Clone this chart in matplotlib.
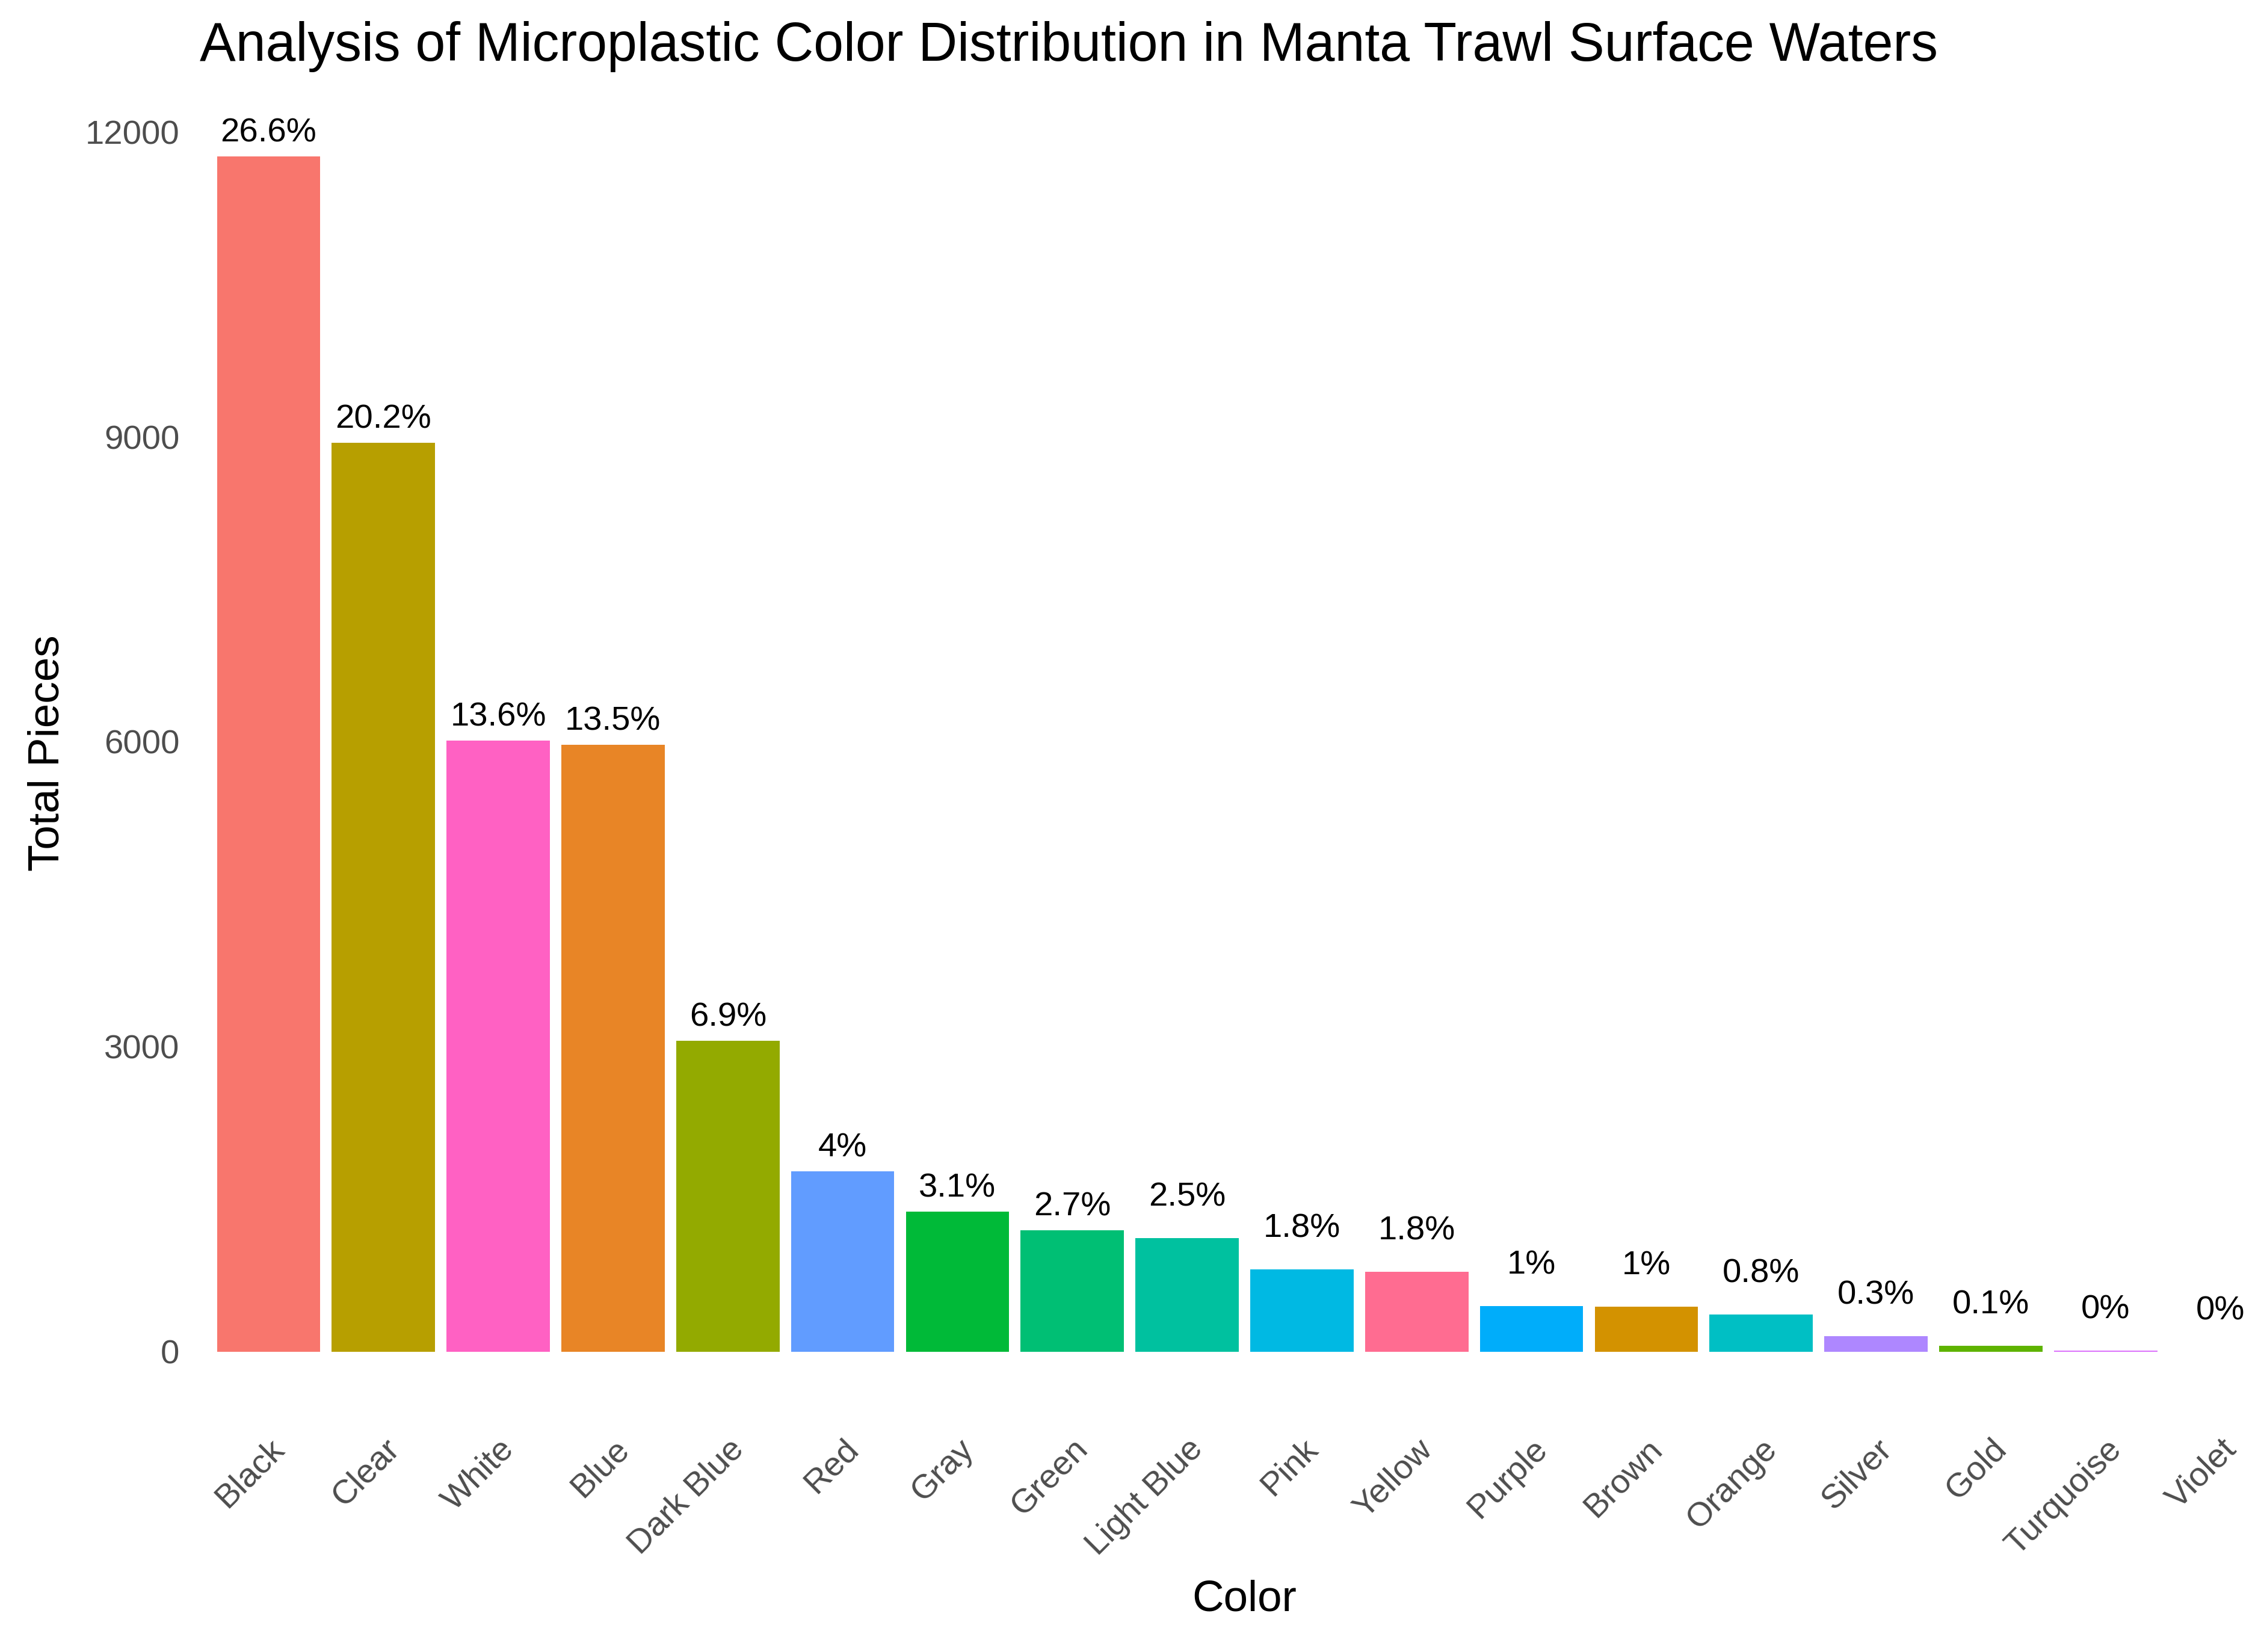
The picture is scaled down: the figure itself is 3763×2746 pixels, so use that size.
import matplotlib
matplotlib.use('Agg')
import matplotlib.pyplot as plt
import numpy as np

colors_cat = ['Black', 'Clear', 'White', 'Blue', 'Dark Blue', 'Red', 'Gray', 'Green',
              'Light Blue', 'Pink', 'Yellow', 'Purple', 'Brown', 'Orange', 'Silver',
              'Gold', 'Turquoise', 'Violet']
total_pieces = [11760, 8940, 6010, 5970, 3060, 1775, 1380, 1195,
                1115, 810, 785, 450, 440, 365, 150, 55, 10, 0]
pct_labels = ['26.6%', '20.2%', '13.6%', '13.5%', '6.9%', '4%', '3.1%', '2.7%',
              '2.5%', '1.8%', '1.8%', '1%', '1%', '0.8%', '0.3%', '0.1%', '0%', '0%']

# ggplot default hue palette, assigned by alphabetical order of the colour names
hue = ['#F8766D', '#E88526', '#D39200', '#B79F00', '#93AA00', '#5EB300', '#00BA38',
       '#00BF74', '#00C19F', '#00BFC4', '#00B9E3', '#00ADFA', '#619CFF', '#AE87FF',
       '#DB72FB', '#F564E3', '#FF61C3', '#FF6C91']
pal = dict(zip(sorted(colors_cat), hue))
bar_colors = [pal[c] for c in colors_cat]

plt.rcParams['font.family'] = ['Liberation Sans', 'DejaVu Sans']

fig = plt.figure(figsize=(3763 / 300, 2746 / 300), dpi=300)
ax = fig.add_axes([0.0882, 0.146, 0.923, 0.796])

x = np.arange(len(colors_cat))
ax.bar(x, total_pieces, width=0.9, color=bar_colors)

for i, (v, lab) in enumerate(zip(total_pieces, pct_labels)):
    off = 3 if i < 8 else 10
    ax.annotate(lab, (i, v), xytext=(0, off), textcoords='offset points',
                ha='center', va='bottom', fontsize=13.5, color='black')

ax.set_xlim(-0.6, 17.6)
ax.set_ylim(-582, 12355)
ax.set_yticks([0, 3000, 6000, 9000, 12000])
ax.set_yticklabels(['0', '3000', '6000', '9000', '12000'])
ax.set_xticks(x)
ax.set_xticklabels(colors_cat, rotation=45, ha='right', va='top', rotation_mode='anchor')
ax.tick_params(axis='both', length=0, labelsize=13.5, labelcolor='#4D4D4D')
ax.tick_params(axis='y', pad=8)
ax.tick_params(axis='x', pad=9)
for s in ax.spines.values():
    s.set_visible(False)

ax.set_xlabel('Color', fontsize=17.5, labelpad=7)
ax.set_ylabel('Total Pieces', fontsize=17.5, labelpad=7)
ax.set_title('Analysis of Microplastic Color Distribution in Manta Trawl Surface Waters',
             fontsize=21.5, loc='left', pad=14)

fig.savefig('out.png', dpi=300, facecolor='white')
